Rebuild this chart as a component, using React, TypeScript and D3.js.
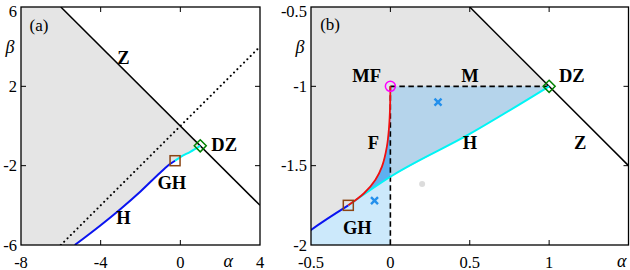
import React from "react";
import * as d3 from "d3";

// ---- data ----
const zLineA: [number, number][] = [[-6, 6], [4, -4]];
const zLineB: [number, number][] = [[0.5, -0.5], [1.5, -1.5]];
const dottedA: [number, number][] = [[-6, -6], [3.9, 3.9]];
const hBlue: [number, number][] = [
  [-5.3, -6], [-4, -5.0], [-3, -4.18], [-2, -3.3], [-1, -2.34], [-0.5, -1.905], [-0.265, -1.75],
];
const hCyan: [number, number][] = [[-0.265, -1.75], [0, -1.57], [0.5, -1.3], [1, -1]];
const fCurve: [number, number][] = [
  [-0.265, -1.75], [-0.166, -1.674], [-0.095, -1.59], [-0.053, -1.506],
  [-0.022, -1.38], [-0.008, -1.254], [-0.002, -1.13], [0, -1],
];
const dashedB: [number, number][][] = [[[0, -1], [1, -1]], [[0, -1], [0, -2]]];
const ghPoint: [number, number] = [-0.265, -1.75];
const dzPoint: [number, number] = [1, -1];
const mfPoint: [number, number] = [0, -1];
const crossesB: [number, number][] = [[0.3, -1.1], [-0.1, -1.72]];
const greyDotB: [number, number] = [0.2, -1.615];

const xTicksA = [-4, 0];
const yTicksA = [2, -2];
const xLabelsA = [-8, -4, 0, 4];
const yLabelsA = [6, 2, -2, -6];
const xTicksB = [0, 0.5, 1];
const yTicksB = [-1, -1.5];
const xLabelsB = [-0.5, 0, 0.5, 1];
const yLabelsB = [-0.5, -1, -1.5, -2];

const labelsA = [
  { t: "Z", a: -2.86, b: 3.41 },
  { t: "DZ", a: 2.2, b: -0.96 },
  { t: "GH", a: -0.43, b: -2.86 },
  { t: "H", a: -2.86, b: -4.66 },
];
const labelsB = [
  { t: "MF", a: -0.149, b: -0.937 },
  { t: "M", a: 0.502, b: -0.937 },
  { t: "DZ", a: 1.143, b: -0.937 },
  { t: "F", a: -0.107, b: -1.356 },
  { t: "H", a: 0.502, b: -1.356 },
  { t: "Z", a: 1.195, b: -1.36 },
  { t: "GH", a: -0.208, b: -1.893 },
];

const GREY = "#e5e5e5";
const STEEL = "#b5d4eb";
const MID = "#5eb0f0";
const LIGHT = "#cce9fb";
const BLUE = "#0a14f0";
const CYAN = "#00f5f5";
const SERIF = "'Liberation Serif', 'DejaVu Serif', serif";

type Sc = d3.ScaleLinear<number, number>;

const Frame = ({ x, y, xt, yt, xl, yl, aPos, bPos }: {
  x: Sc; y: Sc; xt: number[]; yt: number[]; xl: number[]; yl: number[];
  aPos: number; bPos: number;
}) => {
  const [x0, x1] = x.range();
  const [y0, y1] = y.range();
  return (
    <g>
      <rect x={x0} y={y1} width={x1 - x0} height={y0 - y1} fill="none" stroke="#000" strokeWidth={1.3} />
      {xt.map((v) => (
        <g key={"xt" + v} stroke="#000" strokeWidth={1}>
          <line x1={x(v)} x2={x(v)} y1={y0} y2={y0 - 5} />
          <line x1={x(v)} x2={x(v)} y1={y1} y2={y1 + 5} />
        </g>
      ))}
      {yt.map((v) => (
        <g key={"yt" + v} stroke="#000" strokeWidth={1}>
          <line x1={x0} x2={x0 + 5} y1={y(v)} y2={y(v)} />
          <line x1={x1} x2={x1 - 5} y1={y(v)} y2={y(v)} />
        </g>
      ))}
      {xl.map((v) => (
        <text key={"xl" + v} x={x(v)} y={y0 + 17} textAnchor="middle" dominantBaseline="central"
          fontFamily={SERIF} fontSize={16.5}>{String(v)}</text>
      ))}
      {yl.map((v) => (
        // the top label sits a little lower so it stays inside the picture
        <text key={"yl" + v} x={x0 - 4} y={Math.max(y(v), 11)} textAnchor="end" dominantBaseline="central"
          fontFamily={SERIF} fontSize={16.5}>{String(v)}</text>
      ))}
      <text x={x(aPos)} y={y0 + 16} textAnchor="middle" dominantBaseline="central"
        fontFamily={SERIF} fontStyle="italic" fontSize={18}>α</text>
      <text x={x0 - 11} y={y(bPos)} textAnchor="middle" dominantBaseline="central"
        fontFamily={SERIF} fontStyle="italic" fontSize={18}>β</text>
    </g>
  );
};

const Square = ({ p, x, y }: { p: [number, number]; x: Sc; y: Sc }) => (
  <rect x={x(p[0]) - 5} y={y(p[1]) - 5} width={10} height={10} fill="none" stroke="#8b4513" strokeWidth={1.5} />
);
const Diamond = ({ p, x, y }: { p: [number, number]; x: Sc; y: Sc }) => {
  const cx = x(p[0]), cy = y(p[1]);
  return <path d={`M${cx},${cy - 6}L${cx + 6},${cy}L${cx},${cy + 6}L${cx - 6},${cy}Z`} fill="none" stroke="#008000" strokeWidth={1.5} />;
};

export default function App() {
  // panel (a)
  const xA = d3.scaleLinear().domain([-8, 4]).range([21, 260]);
  const yA = d3.scaleLinear().domain([-6, 6]).range([245, 7]);
  // panel (b)
  const xB = d3.scaleLinear().domain([-0.5, 1.5]).range([311, 628.5]);
  const yB = d3.scaleLinear().domain([-2, -0.5]).range([245, 7]);

  const mk = (x: Sc, y: Sc) => ({
    lin: d3.line<[number, number]>().x((d) => x(d[0])).y((d) => y(d[1])),
    mono: d3.line<[number, number]>().x((d) => x(d[0])).y((d) => y(d[1])).curve(d3.curveMonotoneX),
    cr: d3.line<[number, number]>().x((d) => x(d[0])).y((d) => y(d[1])).curve(d3.curveCatmullRom.alpha(0.5)),
  });
  const lA = mk(xA, yA);
  const lB = mk(xB, yB);

  // grey region: left of Z, above H
  const greyPoly: [number, number][] = [
    [-8, 6], [-6, 6], dzPoint,
    ...hCyan.slice().reverse(), ...hBlue.slice().reverse(), [-8, -6],
  ];
  const steelPoly: [number, number][] = [[0, -1], [1, -1], ...hCyan.filter((d) => d[0] >= 0).reverse()];
  const midPoly: [number, number][] = [...fCurve, [0, -1.57], ghPoint];
  const lightPoly: [number, number][] = [
    [-0.5, -2], ...hBlue.filter((d) => d[0] >= -0.5), ...hCyan.filter((d) => d[0] <= 0).slice(1), [0, -2],
  ];

  return (
    <svg width={630} height={270} style={{ position: "absolute", left: 0, top: 0, background: "#fff" }}>
      <defs>
        <clipPath id="clipA"><rect x={21} y={7} width={239} height={238} /></clipPath>
        <clipPath id="clipB"><rect x={311} y={7} width={317.5} height={238} /></clipPath>
      </defs>

      {/* ---- panel (a) ---- */}
      <g clipPath="url(#clipA)">
        <path d={lA.lin(greyPoly) ?? ""} fill={GREY} />
        <path d={lA.lin(dottedA) ?? ""} fill="none" stroke="#000" strokeWidth={2} strokeDasharray="0.1,4.6" strokeLinecap="round" />
        <path d={lA.lin(zLineA) ?? ""} fill="none" stroke="#000" strokeWidth={1.5} />
        <path d={lA.mono(hBlue) ?? ""} fill="none" stroke={BLUE} strokeWidth={2} />
        <path d={lA.mono(hCyan) ?? ""} fill="none" stroke={CYAN} strokeWidth={2} />
      </g>
      <Square p={ghPoint} x={xA} y={yA} />
      <Diamond p={dzPoint} x={xA} y={yA} />
      <Frame x={xA} y={yA} xt={xTicksA} yt={yTicksA} xl={xLabelsA} yl={yLabelsA} aPos={2.4} bPos={4} />
      <text x={xA(-7.1)} y={yA(5.09)} textAnchor="middle" dominantBaseline="central" fontFamily={SERIF} fontSize={17}>(a)</text>
      {labelsA.map((l) => (
        <text key={"la" + l.t} x={xA(l.a)} y={yA(l.b)} textAnchor="middle" dominantBaseline="central"
          fontFamily={SERIF} fontWeight="bold" fontSize={18.5}>{l.t}</text>
      ))}

      {/* ---- panel (b) ---- */}
      <g clipPath="url(#clipB)">
        <path d={lB.lin(greyPoly) ?? ""} fill={GREY} />
        <path d={lB.lin(steelPoly) ?? ""} fill={STEEL} />
        <path d={lB.lin(midPoly) ?? ""} fill={MID} />
        <path d={lB.lin(lightPoly) ?? ""} fill={LIGHT} />
        {dashedB.map((d, i) => (
          <path key={"db" + i} d={lB.lin(d) ?? ""} fill="none" stroke="#000" strokeWidth={1.6} strokeDasharray="5.5,3.5" />
        ))}
        <path d={lB.lin(zLineB) ?? ""} fill="none" stroke="#000" strokeWidth={1.5} />
        <path d={lB.mono(hBlue) ?? ""} fill="none" stroke={BLUE} strokeWidth={2} />
        <path d={lB.mono(hCyan) ?? ""} fill="none" stroke={CYAN} strokeWidth={2} />
        <path d={lB.cr(fCurve) ?? ""} fill="none" stroke="#f01010" strokeWidth={1.8} />
        <circle cx={xB(greyDotB[0])} cy={yB(greyDotB[1])} r={3} fill="#dcdcdc" />
        {crossesB.map((p, i) => {
          const cx = xB(p[0]), cy = yB(p[1]);
          return (
            <path key={"cx" + i} d={`M${cx - 3.5},${cy - 3.5}L${cx + 3.5},${cy + 3.5}M${cx - 3.5},${cy + 3.5}L${cx + 3.5},${cy - 3.5}`}
              stroke="#2390ec" strokeWidth={2.4} fill="none" />
          );
        })}
      </g>
      <Square p={ghPoint} x={xB} y={yB} />
      <Diamond p={dzPoint} x={xB} y={yB} />
      <circle cx={xB(mfPoint[0])} cy={yB(mfPoint[1])} r={5} fill="none" stroke="#ff00ff" strokeWidth={1.5} />
      <Frame x={xB} y={yB} xt={xTicksB} yt={yTicksB} xl={xLabelsB} yl={yLabelsB} aPos={1.458} bPos={-0.75} />
      <text x={xB(-0.38)} y={yB(-0.61)} textAnchor="middle" dominantBaseline="central" fontFamily={SERIF} fontSize={17}>(b)</text>
      {labelsB.map((l) => (
        <text key={"lb" + l.t} x={xB(l.a)} y={yB(l.b)} textAnchor="middle" dominantBaseline="central"
          fontFamily={SERIF} fontWeight="bold" fontSize={18.5}>{l.t}</text>
      ))}
    </svg>
  );
}
